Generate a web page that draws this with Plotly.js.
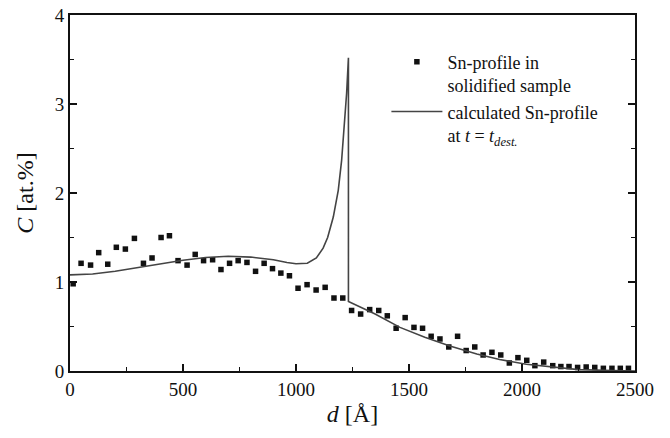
<!DOCTYPE html>
<html>
<head>
<meta charset="utf-8">
<script src="https://cdn.plot.ly/plotly-3.0.1.min.js"></script>
<style>html,body{margin:0;padding:0;background:#fff;}#chart{width:670px;height:438px;}</style>
</head>
<body>
<div id="chart"></div>
<script>
// Measured Sn-profile in solidified sample
const measD = [14, 49, 91, 127, 167, 205, 245, 285, 325, 363, 403, 440, 478, 518, 554, 591, 631, 668, 706, 744, 783, 821, 859, 896, 933, 971, 1009, 1049, 1089, 1129, 1168, 1207, 1246, 1286, 1326, 1366, 1404, 1443, 1483, 1522, 1560, 1598, 1637, 1676, 1715, 1753, 1791, 1828, 1867, 1906, 1944, 1982, 2021, 2057, 2096, 2136, 2172, 2208, 2246, 2284, 2322, 2360, 2398, 2435, 2471];
const measC = [0.98, 1.21, 1.19, 1.33, 1.20, 1.39, 1.37, 1.49, 1.21, 1.27, 1.50, 1.52, 1.24, 1.19, 1.31, 1.24, 1.25, 1.14, 1.21, 1.24, 1.22, 1.12, 1.21, 1.15, 1.10, 1.07, 0.93, 0.97, 0.91, 0.94, 0.82, 0.82, 0.68, 0.64, 0.69, 0.68, 0.62, 0.48, 0.60, 0.49, 0.48, 0.39, 0.36, 0.27, 0.39, 0.23, 0.27, 0.18, 0.21, 0.18, 0.09, 0.15, 0.12, 0.06, 0.10, 0.06, 0.05, 0.05, 0.04, 0.045, 0.04, 0.03, 0.03, 0.03, 0.03];

// Calculated Sn-profile at t = t_dest.
const calcD = [0, 100, 200, 300, 400, 500, 600, 700, 800, 900, 960, 1000, 1050, 1090, 1120, 1140, 1165, 1187, 1202, 1214, 1224, 1232, 1232, 1350, 1460, 1570, 1681, 1800, 1901, 2019, 2137, 2250, 2400, 2500];
const calcC = [1.08, 1.09, 1.12, 1.16, 1.20, 1.245, 1.275, 1.29, 1.28, 1.25, 1.22, 1.205, 1.21, 1.27, 1.38, 1.50, 1.73, 2.03, 2.37, 2.74, 3.12, 3.52, 0.78, 0.64, 0.49, 0.38, 0.28, 0.19, 0.13, 0.075, 0.04, 0.015, 0.005, 0.0];

const xTicks = [0, 500, 1000, 1500, 2000, 2500];
const yTicks = [0, 1, 2, 3, 4];

const serif = 'Liberation Serif, Times New Roman, serif';

const traces = [
  {
    x: measD, y: measC, type: 'scatter', mode: 'markers',
    name: 'Sn-profile in<br>solidified sample',
    marker: {symbol: 'square', size: 5.5, color: '#111'}
  },
  {
    x: calcD, y: calcC, type: 'scatter', mode: 'lines',
    name: 'calculated Sn-profile<br>at <i>t</i> = <i>t</i><sub><i>dest.</i></sub>',
    line: {color: '#444', width: 1.6}
  }
];

const layout = {
  width: 670, height: 438,
  margin: {l: 69.5, r: 34.5, t: 15, b: 67},
  paper_bgcolor: '#fff', plot_bgcolor: '#fff',
  font: {family: serif, color: '#111', size: 18},
  showlegend: true,
  legend: {
    x: 0.56, y: 0.92, xanchor: 'left', yanchor: 'top',
    bgcolor: 'rgba(0,0,0,0)', borderwidth: 0,
    font: {family: serif, size: 18, color: '#111'},
    valign: 'top', tracegroupgap: 6, itemwidth: 51
  },
  xaxis: {
    range: [0, 2500], tickvals: xTicks, ticktext: xTicks.map(String),
    ticks: 'inside', ticklen: 7, tickwidth: 1.5, tickcolor: '#111',
    minor: {dtick: 250, ticks: 'inside', ticklen: 4, tickwidth: 1, tickcolor: '#111'},
    showline: true, linecolor: '#111', linewidth: 2, mirror: true,
    showgrid: false, zeroline: false,
    tickfont: {family: serif, size: 19},
    title: {text: '<i>d</i> [Å]', font: {family: serif, size: 24}, standoff: 6}
  },
  yaxis: {
    range: [0, 4], tickvals: yTicks, ticktext: yTicks.map(String),
    ticks: 'inside', ticklen: 7, tickwidth: 1.5, tickcolor: '#111',
    minor: {dtick: 0.5, ticks: 'inside', ticklen: 4, tickwidth: 1, tickcolor: '#111'},
    showline: true, linecolor: '#111', linewidth: 2, mirror: 'ticks',
    showgrid: false, zeroline: false,
    tickfont: {family: serif, size: 19},
    title: {text: '<i>C</i> [at.%]', font: {family: serif, size: 24}, standoff: 14}
  }
};

Plotly.newPlot('chart', traces, layout, {displayModeBar: false, staticPlot: true});
</script>
</body>
</html>
